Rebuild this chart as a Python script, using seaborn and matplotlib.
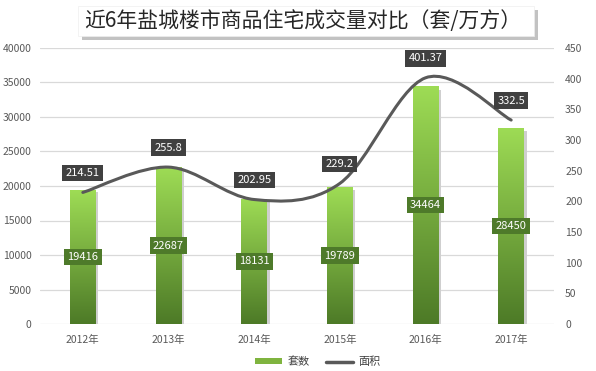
import numpy as np
import pandas as pd
import matplotlib
matplotlib.use('Agg')
import matplotlib.pyplot as plt
import seaborn as sns
from matplotlib.path import Path
from matplotlib.patches import PathPatch, Rectangle, Patch
from matplotlib.lines import Line2D
from matplotlib.colors import LinearSegmentedColormap

years = ['2012年', '2013年', '2014年', '2015年', '2016年', '2017年']
units = [19416, 22687, 18131, 19789, 34464, 28450]
area = [214.51, 255.8, 202.95, 229.2, 401.37, 332.5]
area_labels = ['214.51', '255.8', '202.95', '229.2', '401.37', '332.5']
left_ticks = [0, 5000, 10000, 15000, 20000, 25000, 30000, 35000, 40000]
right_ticks = [0, 50, 100, 150, 200, 250, 300, 350, 400, 450]
title = '近6年盐城楼市商品住宅成交量对比（套/万方）'

sns.set_theme(style='white')
plt.rcParams['font.family'] = ['Noto Sans CJK SC', 'DejaVu Sans']

W, H = 596, 371
fig = plt.figure(figsize=(W / 100, H / 100), dpi=100)
fig.patch.set_facecolor('white')
ax = fig.add_axes([40 / W, 1 - 324 / H, 514 / W, 276 / H])

df = pd.DataFrame({'year': years, 'units': units})
sns.barplot(data=df, x='year', y='units', ax=ax, width=0.30,
            color='#7FB43F', saturation=1, zorder=2)
ax.set_ylim(0, 40000)
ax.set_xlim(-0.5, len(years) - 0.5)
ax.set_yticks(left_ticks)
ax.set_yticklabels([str(t) for t in left_ticks])
ax.set_xlabel('')
ax.set_ylabel('')
ax.grid(axis='y', color='#D9D9D9', lw=0.9, zorder=0)
ax.set_axisbelow(True)
for s in ax.spines.values():
    s.set_visible(False)
ax.tick_params(axis='both', length=0, colors='#595959', labelsize=7.5)
ax.tick_params(axis='x', pad=8)
ax.tick_params(axis='y', pad=6)

cmap = LinearSegmentedColormap.from_list('g', ['#4D7A27', '#9EDC55'])
grad = np.linspace(0, 1, 256).reshape(-1, 1)
for p in list(ax.patches):
    x, w, h = p.get_x(), p.get_width(), p.get_height()
    # shadow
    ax.add_patch(Rectangle((x + w, 0), 0.03, h * 0.985, color='#CFCFCF',
                           lw=0, zorder=1.5))
    p.set_facecolor('none')
    p.set_edgecolor('none')
    im = ax.imshow(grad, extent=[x, x + w, 0, h], origin='lower', cmap=cmap,
                   aspect='auto', zorder=2)
    im.set_clip_path(p)
ax.set_xlim(-0.5, len(years) - 0.5)
ax.set_ylim(0, 40000)

for i, u in enumerate(units):
    ax.text(i, u / 2, str(u), ha='center', va='center', color='white',
            fontsize=8, zorder=5,
            bbox=dict(boxstyle='square,pad=0.3', fc='#4E7A2A', ec='none'))

ax2 = ax.twinx()
ax2.set_ylim(0, 450)
ax2.set_yticks(right_ticks)
ax2.set_yticklabels([str(t) for t in right_ticks])
for s in ax2.spines.values():
    s.set_visible(False)
ax2.tick_params(axis='y', length=0, colors='#595959', labelsize=7.5, pad=8)
ax2.grid(False)

# smooth line (Catmull-Rom as cubic Bezier path)
pts = np.array([[i, v] for i, v in enumerate(area)], dtype=float)
ext = np.vstack([pts[0], pts, pts[-1]])
verts = [tuple(pts[0])]
codes = [Path.MOVETO]
for k in range(len(pts) - 1):
    p0, p1, p2, p3 = ext[k], ext[k + 1], ext[k + 2], ext[k + 3]
    c1 = p1 + (p2 - p0) / 6
    c2 = p2 - (p3 - p1) / 6
    verts += [tuple(c1), tuple(c2), tuple(p2)]
    codes += [Path.CURVE4] * 3
ax2.add_patch(PathPatch(Path(verts, codes), fill=False, ec='#595959', lw=2.2,
                        transform=ax2.transData, zorder=3, capstyle='round'))

for i, (v, lab) in enumerate(zip(area, area_labels)):
    ax2.annotate(lab, (i, v), xytext=(0, 14), textcoords='offset points',
                 ha='center', va='center', color='white', fontsize=8, zorder=6,
                 bbox=dict(boxstyle='square,pad=0.3', fc='#404040', ec='none'))

# title box with shadow
bx0, bx1, by0, by1 = 78, 534, 6, 36
fig.patches.append(Rectangle(((bx0 + 4) / W, 1 - (by1 + 4) / H), (bx1 - bx0) / W,
                             (by1 - by0) / H, transform=fig.transFigure,
                             fc='#A8A8A8', ec='none', alpha=0.7, zorder=1))
fig.patches.append(Rectangle((bx0 / W, 1 - by1 / H), (bx1 - bx0) / W,
                             (by1 - by0) / H, transform=fig.transFigure,
                             fc='white', ec='#EEEEEE', lw=0.5, zorder=2))
fig.text(303 / W, 1 - 21 / H, title, ha='center', va='center', fontsize=15,
         color='#262626', zorder=3)

handles = [Patch(facecolor='#7FB43F', edgecolor='none'),
           Line2D([0], [0], color='#595959', lw=2.5)]
fig.legend(handles, ['套数', '面积'], loc='center', bbox_to_anchor=(318 / W, 9 / H),
           ncol=2, frameon=False, fontsize=8, handlelength=2.4, handleheight=0.5,
           columnspacing=1.5, handletextpad=0.5, labelcolor='#404040')

fig.savefig('out.png', dpi=100, facecolor='white')
